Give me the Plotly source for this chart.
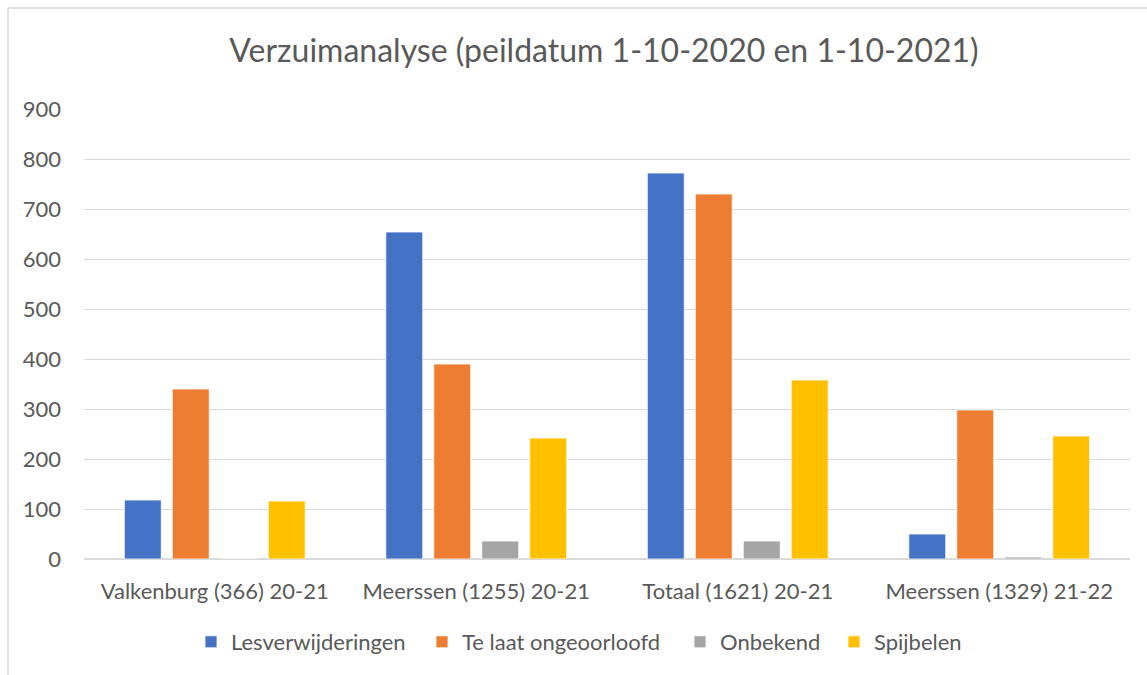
import plotly.graph_objects as go

categories = ["Valkenburg (366) 20-21", "Meerssen (1255) 20-21", "Totaal (1621) 20-21", "Meerssen (1329) 21-22"]
series_names = ["Lesverwijderingen", "Te laat ongeoorloofd", "Onbekend", "Spijbelen"]
lesverwijderingen = [118, 654, 772, 50]
te_laat = [340, 390, 730, 298]
onbekend = [0, 36, 36, 4]
spijbelen = [116, 242, 358, 246]
colors = ["#4472C4", "#ED7D31", "#A5A5A5", "#FFC000"]
y_ticks = [0, 100, 200, 300, 400, 500, 600, 700, 800, 900]

W, H = 1147, 675
L, R, T, B = 84, 17, 109, 116

pw, ph = W - L - R, H - T - B
def px(x):
    return (x - L) / pw
def py(y):
    return (H - B - y) / ph

legend_ids = ["legend", "legend2", "legend3", "legend4"]
legend_text_x = [231, 462, 720, 874]
TEXT_OFFSET = 40

fig = go.Figure()
for name, vals, col, lid in zip(series_names, [lesverwijderingen, te_laat, onbekend, spijbelen], colors, legend_ids):
    fig.add_trace(go.Bar(x=categories, y=vals, name=name, legend=lid, showlegend=True,
                         marker=dict(color=col, line=dict(color="white", width=0.8))))

legends = {}
for lid, tx in zip(legend_ids, legend_text_x):
    legends[lid] = dict(orientation="h", x=px(tx - TEXT_OFFSET), xanchor="left", y=py(642), yanchor="middle",
                        font=dict(family="Lato", size=22, color="#595959"), itemwidth=30,
                        bgcolor="rgba(0,0,0,0)", visible=True)

fig.update_layout(
    width=W, height=H,
    showlegend=True,
    margin=dict(l=L, r=R, t=T, b=B),
    paper_bgcolor="white", plot_bgcolor="white",
    barmode="group", bargap=0.266, bargroupgap=0.23,
    title=dict(text="Verzuimanalyse (peildatum 1-10-2020 en 1-10-2021)", x=604 / W, xanchor="center",
               y=1 - 51 / H, yanchor="middle",
               font=dict(family="Lato", size=32, color="#595959")),
    font=dict(family="Lato", size=22, color="#595959"),
    xaxis=dict(showgrid=False, showline=True, linecolor="#D9D9D9", linewidth=1, ticks="",
               ticklabelstandoff=13, tickfont=dict(size=22, color="#595959")),
    yaxis=dict(range=[0, 900], tickvals=y_ticks, showgrid=True, gridcolor="#D9D9D9", gridwidth=1,
               zeroline=True, zerolinecolor="#D9D9D9", ticks="", ticklabelstandoff=22,
               tickfont=dict(size=22, color="#595959")),
    shapes=[
        dict(type="line", xref="paper", yref="paper", x0=px(8), x1=px(1147), y0=py(8), y1=py(8),
             line=dict(color="#D9D9D9", width=1.5)),
        dict(type="line", xref="paper", yref="paper", x0=px(8), x1=px(8), y0=py(8), y1=py(675),
             line=dict(color="#D9D9D9", width=1.5)),
    ],
    **legends,
)

fig.write_html("out.html", config={"displayModeBar": False},
               post_script="document.body.style.margin='0px';document.body.style.overflow='hidden';")
